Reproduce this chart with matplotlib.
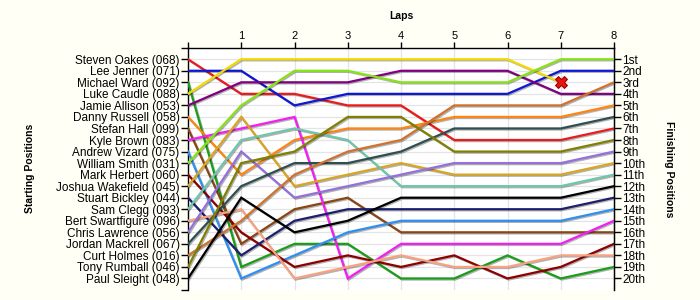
#!/usr/bin/env python3
"""Lap chart: starting grid on the left, finishing order on the right."""

import matplotlib

matplotlib.use("Agg")
import matplotlib.pyplot as plt
import matplotlib.patheffects as pe

BG = "#fffff6"
GRID = "#e4e4e4"

laps = [0, 1, 2, 3, 4, 5, 6, 7, 8]

drivers = [
    "Steven Oakes (068)",
    "Lee Jenner (071)",
    "Michael Ward (092)",
    "Luke Caudle (088)",
    "Jamie Allison (053)",
    "Danny Russell (058)",
    "Stefan Hall (099)",
    "Kyle Brown (083)",
    "Andrew Vizard (075)",
    "William Smith (031)",
    "Mark Herbert (060)",
    "Joshua Wakefield (045)",
    "Stuart Bickley (044)",
    "Sam Clegg (093)",
    "Bert Swartfigure (096)",
    "Chris Lawrence (056)",
    "Jordan Mackrell (067)",
    "Curt Holmes (016)",
    "Tony Rumball (046)",
    "Paul Sleight (048)",
]

# position of each driver at the end of laps 0..8 (None = retired)
positions = [
    [1, 4, 4, 5, 5, 8, 8, 8, 7],
    [2, 2, 5, 4, 4, 4, 4, 2, 2],
    [3, 19, 17, 17, 20, 20, 18, 20, 19],
    [4, 1, 1, 1, 1, 1, 1, 3, None],
    [5, 3, 3, 3, 2, 2, 2, 4, 4],
    [6, 11, 8, 7, 7, 6, 6, 6, 5],
    [7, 17, 14, 13, 16, 16, 16, 16, 16],
    [8, 7, 6, 20, 17, 17, 17, 17, 15],
    [9, 20, 18, 16, 15, 15, 15, 15, 14],
    [10, 5, 2, 2, 3, 3, 3, 1, 1],
    [11, 16, 19, 18, 19, 18, 20, 19, 17],
    [12, 6, 12, 11, 10, 11, 11, 11, 10],
    [13, 18, 15, 14, 14, 14, 14, 14, 13],
    [14, 8, 7, 8, 12, 12, 12, 12, 11],
    [15, 14, 20, 19, 18, 19, 19, 18, 18],
    [16, 9, 13, 12, 11, 10, 10, 10, 9],
    [17, 12, 10, 10, 9, 7, 7, 7, 6],
    [18, 15, 11, 9, 8, 5, 5, 5, 3],
    [19, 10, 9, 6, 6, 9, 9, 9, 8],
    [20, 13, 16, 15, 13, 13, 13, 13, 12],
]

finish_labels = [
    "1st", "2nd", "3rd", "4th", "5th", "6th", "7th", "8th", "9th", "10th",
    "11th", "12th", "13th", "14th", "15th", "16th", "17th", "18th", "19th", "20th",
]

colors = [
    "#ec1b1b", "#0c18d4", "#1a9e1a", "#f2da00", "#800080",
    "#ff8410", "#8b4513", "#f21ef2", "#2f8ff0", "#86e414",
    "#8e0000", "#daa520", "#1e1e6e", "#6fc6ad", "#f8a282",
    "#9370db", "#2f4f4f", "#d0722e", "#808000", "#000000",
]

plt.rcParams["font.family"] = ["Liberation Sans", "DejaVu Sans"]

fig = plt.figure(figsize=(7, 3), dpi=100, facecolor=BG)
ax = fig.add_axes([188 / 700, 10 / 300, 426 / 700, 242.3 / 300])
ax.set_facecolor("white")

ax.set_xlim(0, 8)
ax.set_ylim(21, 0)

for x in laps[1:-1]:
    ax.axvline(x, color=GRID, lw=0.9, zorder=0)
for y in range(1, 21):
    ax.axhline(y, color=GRID, lw=0.9, zorder=0)

shadow = [pe.SimpleLineShadow(offset=(0.8, -0.8), shadow_color="black", alpha=0.3), pe.Normal()]
for name, pos, col in zip(drivers, positions, colors):
    xs = [lap for lap, p in zip(laps, pos) if p is not None]
    ys = [p for p in pos if p is not None]
    ax.plot(xs, ys, color=col, lw=1.6, solid_joinstyle="miter", path_effects=shadow, zorder=3)
    if len(xs) < len(laps):
        ax.plot(xs[-1], ys[-1], marker="X", ms=8, color="#ee1111", mec="#880000", mew=0.7, zorder=5)

# spines
ax.spines["bottom"].set_visible(False)
for side in ("left", "top", "right"):
    ax.spines[side].set_linewidth(1.0)
    ax.spines[side].set_color("black")

# top: lap numbers
ax.xaxis.tick_top()
ax.set_xticks(laps, [""] + [str(l) for l in laps[1:]])
ax.tick_params(axis="x", direction="out", length=4, width=1, pad=1, labelsize=8)

# left: starting grid
ax.set_yticks(range(1, 21), drivers)
ax.set_yticks([0, 21], minor=True)
ax.tick_params(axis="y", which="both", direction="out", length=5, width=1, pad=1, labelsize=8.5)

# right: finishing positions
ax2 = ax.twinx()
ax2.set_ylim(ax.get_ylim())
ax2.set_yticks(range(1, 21), finish_labels)
ax2.tick_params(axis="y", direction="out", length=5, width=1, pad=1, labelsize=8.5)
for side in ("bottom", "left", "top"):
    ax2.spines[side].set_visible(False)

fig.text(401 / 700, 1 - 16 / 300, "Laps", ha="center", va="center", fontsize=7.5, fontweight="bold")
fig.text(30 / 700, 1 - 168 / 300, "Starting Positions", ha="center", va="center",
         rotation=90, fontsize=7.5, fontweight="bold")
fig.text(669 / 700, 1 - 169 / 300, "Finishing Positions", ha="center", va="center",
         rotation=270, fontsize=7.5, fontweight="bold")

fig.savefig("out.png", dpi=100, facecolor=BG)
